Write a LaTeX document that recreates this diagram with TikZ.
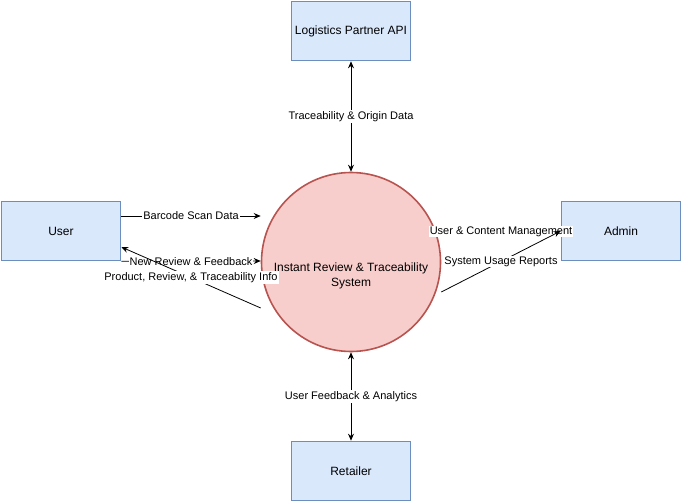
\documentclass[tikz,border=0pt]{standalone}
\usepackage{fontspec}
\setmainfont{Liberation Sans}
\usetikzlibrary{arrows.meta}
\definecolor{boxfill}{HTML}{DAE8FC}
\definecolor{boxline}{HTML}{6C8EBF}
\definecolor{sysfill}{HTML}{F8CECC}
\definecolor{sysline}{HTML}{B85450}

\begin{document}
\begin{tikzpicture}[x=1pt,y=-1pt,
    entity/.style={draw=boxline,fill=boxfill,line width=1.6pt,minimum width=119pt,minimum height=59pt,inner sep=0pt,font=\fontsize{12}{14}\selectfont},
    flow/.style={-{Stealth[length=7pt,width=6pt]},line width=0.8pt},
    biflow/.style={{Stealth[length=7pt,width=6pt]}-{Stealth[length=7pt,width=6pt]},line width=0.8pt},
    lbl/.style={fill=white,inner sep=1pt,font=\fontsize{11}{13}\selectfont}]
    \useasboundingbox (0,0) rectangle (682,502);

    \node[entity] (logistics) at (351,31) {Logistics Partner API};
    \node[entity] (user) at (61,231) {User};
    \node[entity] (admin) at (621,231) {Admin};
    \node[entity] (retailer) at (351,471) {Retailer};
    \node[circle,draw=sysline,fill=sysfill,line width=1.6pt,minimum size=179pt,inner sep=0pt] (sys) at (351,262) {};
    \node[align=center,font=\fontsize{12}{14.5}\selectfont] (sys-text) at (351,276) {Instant Review \& Traceability\\System};

    \draw[biflow] (sys.north) -- (logistics.south) node[lbl,midway] {Traceability \& Origin Data};
    \draw[biflow] (sys.south) -- (retailer.north) node[lbl,midway] {User Feedback \& Analytics};

    \draw[flow] ([yshift=15pt]user.east) -- ([yshift=46pt]sys.west) node[lbl,midway] {Barcode Scan Data};
    \draw[flow] (user.south east) -- ([yshift=1pt]sys.west) node[lbl,midway] {New Review \& Feedback};
    \draw[flow] ([yshift=-46pt]sys.west) -- ([yshift=-16pt]user.east) node[lbl,midway] {Product, Review, \& Traceability Info};

    \draw[flow] ([yshift=30pt]sys.east) -- (admin.west) node[lbl,midway] {User \& Content Management};
    \draw[flow] ([yshift=-30pt]sys.east) -- (admin.west) node[lbl,midway] {System Usage Reports};
  \end{tikzpicture}
\end{document}
